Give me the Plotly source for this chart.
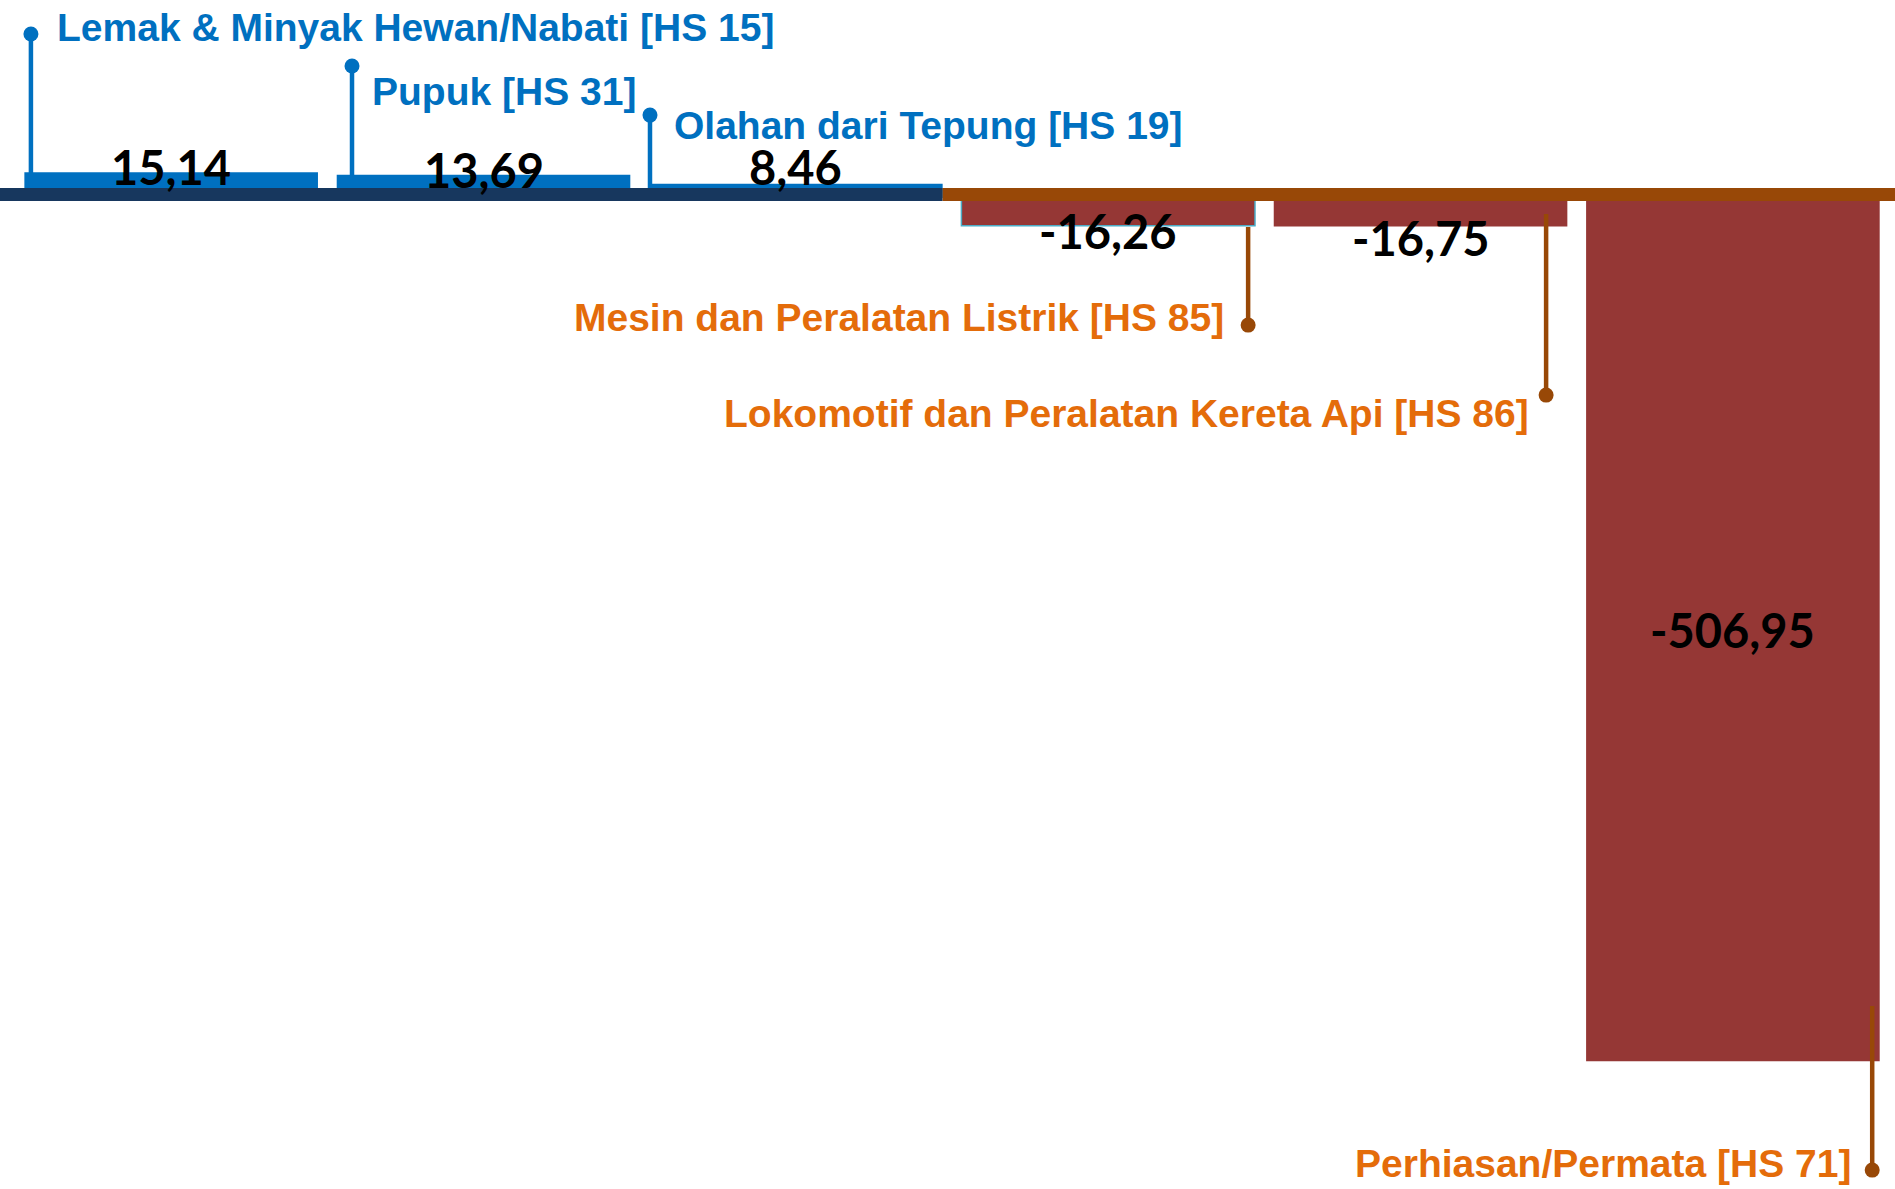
import plotly.graph_objects as go

# ---- data ----
categories = [
    "Lemak & Minyak Hewan/Nabati [HS 15]",
    "Pupuk [HS 31]",
    "Olahan dari Tepung [HS 19]",
    "Mesin dan Peralatan Listrik [HS 85]",
    "Lokomotif dan Peralatan Kereta Api [HS 86]",
    "Perhiasan/Permata [HS 71]",
]
values = [15.14, 13.69, 8.46, -16.26, -16.75, -506.95]

# ---- layout / style constants (not data) ----
POS_BAR = "#0070C0"
NEG_BAR = "#953735"
POS_TXT = "#0070C0"
NEG_TXT = "#E46C0A"
POS_STEM = "#0070C0"
NEG_STEM = "#984807"
NAVY = "#17375E"
BROWN = "#984807"

# lollipop geometry relative to each bar (x offset in category units, y in axis units)
stem_dx = [-0.449, -0.421, -0.467, 0.448, 0.402, 0.446]
stem_y0 = [0.0, 13.0, 0.0, -17.0, -9.4, -474.5]
stem_y1 = [96.3, 77.5, 48.7, -74.6, -115.7, -570.8]
label_y = [100.4, 62.8, 42.5, -69.9, -126.6, -567.2]
label_dx_px = [24, 18, 22, -22, -15, -19]
value_y = [18.2, 16.5, 18.0, -19.4, -23.5, None]

xs = list(range(len(values)))
W, H = 1895, 1189

fig = go.Figure()
fig.add_trace(go.Bar(
    x=xs, y=values, width=0.94,
    marker=dict(
        color=[POS_BAR if v > 0 else NEG_BAR for v in values],
        line=dict(color=["rgba(0,0,0,0)"] * 3 + ["#4BACC6", "rgba(0,0,0,0)", "rgba(0,0,0,0)"],
                  width=[0, 0, 0, 1.5, 0, 0]),
    ),
    hoverinfo="skip", showlegend=False,
))

for i, v in enumerate(values):
    col = POS_STEM if v > 0 else NEG_STEM
    xx = i + stem_dx[i]
    fig.add_trace(go.Scatter(
        x=[xx, xx], y=[stem_y0[i], stem_y1[i]], mode="lines",
        line=dict(color=col, width=4.5),
        hoverinfo="skip", showlegend=False,
    ))
    fig.add_trace(go.Scatter(
        x=[xx], y=[stem_y1[i]], mode="markers",
        marker=dict(size=15, color=col, line=dict(width=0)),
        hoverinfo="skip", showlegend=False,
    ))
    fig.add_annotation(
        x=xx, y=label_y[i], xref="x", yref="y",
        text=f"<b>{categories[i]}</b>", showarrow=False,
        xanchor="left" if v > 0 else "right", yanchor="middle",
        xshift=label_dx_px[i],
        font=dict(family="Liberation Sans Narrow, Arial Narrow, Liberation Sans, Arial, sans-serif",
                  size=39, color=POS_TXT if v > 0 else NEG_TXT),
    )
    vtxt = f"{v:.2f}".replace(".", ",")
    vy = value_y[i] if value_y[i] is not None else v / 2
    fig.add_annotation(
        x=i, y=vy, xref="x", yref="y", text=f"<b>{vtxt}</b>", showarrow=False,
        xanchor="center", yanchor="middle",
        font=dict(family="Lato, Open Sans, sans-serif", size=47, color="#000000"),
    )

# baseline band
fig.add_shape(type="rect", xref="x", yref="y", x0=-0.6, x1=2.47, y0=-1.76, y1=5.87,
              fillcolor=NAVY, line_width=0, layer="above")
fig.add_shape(type="rect", xref="x", yref="y", x0=2.47, x1=5.6, y0=-1.76, y1=5.87,
              fillcolor=BROWN, line_width=0, layer="above")

fig.update_layout(
    width=W, height=H,
    margin=dict(l=0, r=0, t=0, b=0),
    plot_bgcolor="white", paper_bgcolor="white",
    xaxis=dict(range=[-0.548, 5.519], visible=False, fixedrange=True),
    yaxis=dict(range=[-581.9, 116.3], visible=False, fixedrange=True),
    bargap=0.06,
)

fig.write_html("out.html", post_script="document.body.style.margin='0';",
               config={"displayModeBar": False})
